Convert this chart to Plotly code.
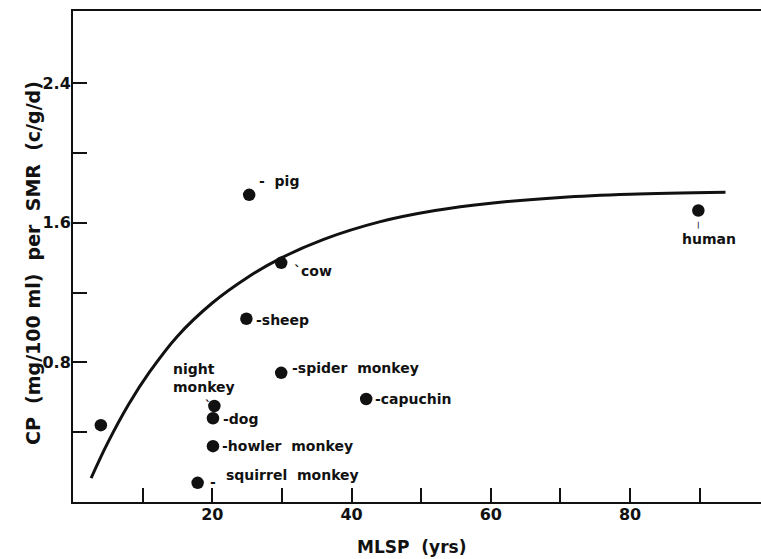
import plotly.graph_objects as go

# Species: maximum life span potential (yrs) vs CP per SMR
species = ["", "pig", "cow", "sheep", "human", "spider monkey", "capuchin",
           "night monkey", "dog", "howler monkey", "squirrel monkey"]
mlsp = [4.0, 25.3, 29.9, 24.9, 89.8, 29.9, 42.1, 20.3, 20.1, 20.1, 17.9]
cp_per_smr = [0.44, 1.76, 1.37, 1.05, 1.67, 0.74, 0.59, 0.55, 0.48, 0.32, 0.11]

# Fitted trend curve
curve_x = [2.6, 5.0, 8.0, 11.0, 15.0, 20.0, 25.0, 30.0, 36.0, 44.0, 52.0,
           60.0, 70.0, 80.0, 93.7]
curve_y = [0.137, 0.34, 0.56, 0.745, 0.95, 1.14, 1.285, 1.40, 1.505, 1.605,
           1.67, 1.712, 1.745, 1.763, 1.775]

x_ticks = [10, 20, 30, 40, 50, 60, 70, 80, 90]
x_ticklabels = ["", "20", "", "40", "", "60", "", "80", ""]
y_ticks = [0.4, 0.8, 1.2, 1.6, 2.0, 2.4]
y_ticklabels = ["", "0.8", "", "1.6", "", "2.4"]

FONT = "DejaVu Sans"
INK = "#111111"

# plot-area geometry in pixels
L, R, T, B = 73, 761, 11, 502


def paper_x(px):
    return (px - L) / (R - L)


def paper_y(py):
    return (B - py) / (B - T)


fig = go.Figure()
fig.add_trace(go.Scatter(
    x=curve_x, y=curve_y, mode="lines",
    line=dict(color=INK, width=3, shape="spline", smoothing=1.0),
    hoverinfo="skip", showlegend=False))
fig.add_trace(go.Scatter(
    x=mlsp, y=cp_per_smr, mode="markers", text=species,
    marker=dict(color=INK, size=12.5, line=dict(width=0)),
    showlegend=False))

# label text and pixel offsets from each point:
# (text, xanchor, yanchor, xshift, yshift, size)
label_style = {
    "pig": [("-  pig", "left", "middle", 9, 14, 14)],
    "cow": [("`cow", "left", "middle", 12, -8, 14)],
    "sheep": [("-sheep", "left", "middle", 9, -1, 14)],
    "human": [("|", "center", "middle", 0, -14, 7),
              ("human", "center", "middle", 11, -28, 14)],
    "spider monkey": [("-spider  monkey", "left", "middle", 10, 5, 14)],
    "capuchin": [("-capuchin", "left", "middle", 8, 0, 14)],
    "night monkey": [("night<br>monkey", "left", "middle", -42, 28, 14),
                     ("`", "left", "top", -10, 8, 12)],
    "dog": [("-dog", "left", "middle", 9, -1, 14)],
    "howler monkey": [("-howler  monkey", "left", "middle", 8, 0, 14)],
    "squirrel monkey": [("-", "left", "middle", 11, 1, 14),
                        ("squirrel  monkey", "left", "middle", 27, 8, 14)],
}

for name, xv, yv in zip(species, mlsp, cp_per_smr):
    for txt, xa, ya, dx, dy, fs in label_style.get(name, []):
        fig.add_annotation(
            x=xv, y=yv, text=txt, showarrow=False, xanchor=xa, yanchor=ya,
            xshift=dx, yshift=dy, align="left", borderpad=0,
            font=dict(family=FONT, size=fs, color=INK, weight="bold"))

# axis titles
fig.add_annotation(
    x=paper_x(411), y=paper_y(547), xref="paper", yref="paper",
    xanchor="center", yanchor="middle", text="MLSP  (yrs)", showarrow=False,
    font=dict(family=FONT, size=17, color=INK, weight="bold"))
fig.add_annotation(
    x=paper_x(33), y=paper_y(263), xref="paper", yref="paper",
    xanchor="center", yanchor="middle", textangle=-90,
    text="CP  (mg/100 ml)  per  SMR  (c/g/d)", showarrow=False,
    font=dict(family=FONT, size=19, color=INK, weight="bold"))

axis_common = dict(
    showgrid=False, zeroline=False, showline=True, linecolor=INK, linewidth=2,
    ticks="inside", ticklen=14, tickwidth=2, tickcolor=INK,
    tickfont=dict(family=FONT, size=16, color=INK, weight="bold"))

fig.update_layout(
    width=761, height=559,
    margin=dict(l=L, r=761 - R, t=T, b=559 - B),
    paper_bgcolor="white", plot_bgcolor="white",
    xaxis=dict(range=[0, 98.8], tickvals=x_ticks, ticktext=x_ticklabels,
               mirror=True, ticklabelstandoff=-3, **axis_common),
    yaxis=dict(range=[0, 2.813], tickvals=y_ticks, ticktext=y_ticklabels,
               ticklabelstandoff=-3, **axis_common),
)

fig.write_html("out.html")
